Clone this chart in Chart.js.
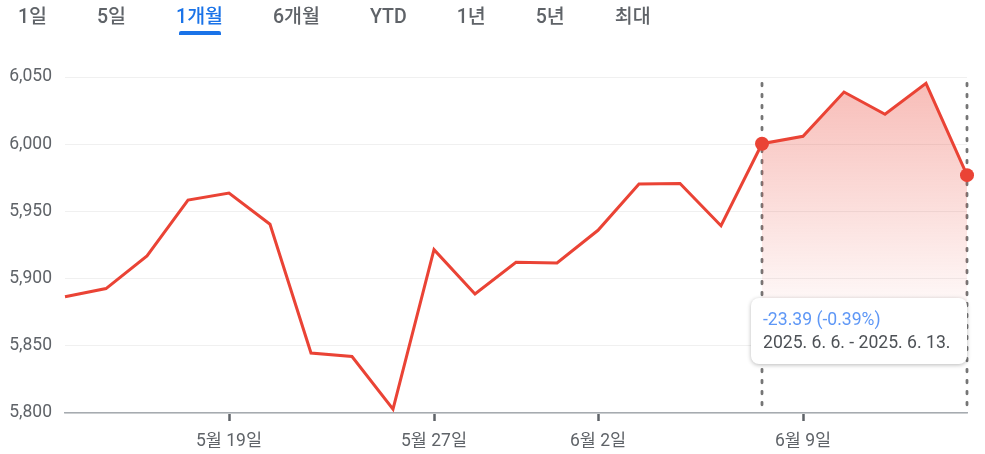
<!DOCTYPE html>
<html lang="ko">
<head>
<meta charset="UTF-8">
<title>1개월 차트</title>
<script src="https://cdn.jsdelivr.net/npm/chart.js"></script>
<style>
  body {
    margin: 0;
    background: #fff;
    font-family: Roboto, 'Noto Sans CJK KR', sans-serif;
  }
  .wrap {
    position: relative;
    width: 985px;
    height: 454px;
    overflow: hidden;
  }
  .tabs {
    position: absolute;
    top: 3px;
    left: 18px;
    display: flex;
    gap: 50px;
    z-index: 2;
  }
  .tab {
    position: relative;
    font-size: 19.5px;
    font-weight: 500;
    color: #5f6368;
    line-height: 28px;
  }
  .tab.on { color: #1a73e8; }
  .tab.on::after {
    content: '';
    position: absolute;
    left: 3px; right: 2px;
    top: 28px;
    height: 4px;
    border-radius: 2px 2px 0 0;
    background: #1a73e8;
  }
  canvas { position: absolute; top: 0; left: 0; }
  .tip {
    position: absolute;
    z-index: 3;
    background: #fff;
    border-radius: 8px;
    box-shadow: 0 1px 4px rgba(0,0,0,0.28);
    padding: 10px 12px 9px 12px;
    box-sizing: border-box;
    font-size: 17.6px;
    line-height: 23px;
    white-space: nowrap;
  }
  .tip .chg { color: #5e97f6; }
  .tip .rng { color: #4d5156; }
</style>
</head>
<body>
<div class="wrap">
  <div class="tabs" id="tabs"></div>
  <canvas id="c" width="985" height="454"></canvas>
  <div class="tip" id="tip"><div class="chg" id="chg"></div><div class="rng" id="rng"></div></div>
</div>

<script>
// 기간 탭
const tabs = ['1일', '5일', '1개월', '6개월', 'YTD', '1년', '5년', '최대'];
const activeTab = '1개월';

// 거래일 (5월 13일 ~ 6월 13일)
const dates = ['5월 13일', '5월 14일', '5월 15일', '5월 16일', '5월 19일', '5월 20일', '5월 21일',
  '5월 22일', '5월 23일', '5월 27일', '5월 28일', '5월 29일', '5월 30일', '6월 2일', '6월 3일',
  '6월 4일', '6월 5일', '6월 6일', '6월 9일', '6월 10일', '6월 11일', '6월 12일', '6월 13일'];
const closes = [5886.55, 5892.58, 5916.93, 5958.38, 5963.60, 5940.46, 5844.61, 5842.01, 5802.82,
  5921.54, 5888.55, 5912.17, 5911.69, 5935.94, 5970.37, 5970.81, 5939.30, 6000.36, 6005.88,
  6038.81, 6022.24, 6045.26, 5976.97];
const xTickLabels = ['5월 19일', '5월 27일', '6월 2일', '6월 9일'];
const yTicks = [5800, 5850, 5900, 5950, 6000, 6050];

// 선택 구간 (6월 6일 ~ 6월 13일)
const selStart = 17;
const selEnd = 22;
const selRangeText = '2025. 6. 6. - 2025. 6. 13.';

const RED = '#ea4335';
const FONT = "Roboto, 'Noto Sans CJK KR', sans-serif";

const tabsEl = document.getElementById('tabs');
tabs.forEach(t => {
  const d = document.createElement('div');
  d.className = 'tab' + (t === activeTab ? ' on' : '');
  d.textContent = t;
  tabsEl.appendChild(d);
});

const diff = closes[selEnd] - closes[selStart];
const pct = diff / closes[selStart] * 100;
document.getElementById('chg').textContent = diff.toFixed(2) + ' (' + pct.toFixed(2) + '%)';
document.getElementById('rng').textContent = selRangeText;

// 선택 구간 세로 점선
const rangeLines = {
  id: 'rangeLines',
  beforeDatasetsDraw(chart) {
    const { ctx, scales: { x, y }, chartArea } = chart;
    const top = y.getPixelForValue(Math.max(...closes));
    ctx.save();
    ctx.strokeStyle = '#757575';
    ctx.lineWidth = 2.8;
    ctx.lineCap = 'round';
    ctx.setLineDash([2.5, 8.5]);
    [selStart, selEnd].forEach(i => {
      const px = x.getPixelForValue(i);
      ctx.beginPath();
      ctx.moveTo(px, top);
      ctx.lineTo(px, chartArea.bottom);
      ctx.stroke();
    });
    ctx.restore();
  },
  afterRender(chart) {
    const { scales: { x } } = chart;
    const tip = document.getElementById('tip');
    const l = x.getPixelForValue(selStart) - 11;
    const r = x.getPixelForValue(selEnd);
    tip.style.left = l + 'px';
    tip.style.width = (r - l) + 'px';
    tip.style.top = '298px';
    tip.style.height = '66px';
  }
};

new Chart(document.getElementById('c'), {
  type: 'line',
  data: {
    labels: dates,
    datasets: [{
      data: closes,
      borderColor: RED,
      borderWidth: 3,
      tension: 0,
      fill: false,
      pointRadius: ctx => (ctx.dataIndex === selStart || ctx.dataIndex === selEnd) ? 7 : 0,
      pointBackgroundColor: RED,
      pointBorderWidth: 0
    }, {
      data: closes.map((v, i) => i >= selStart ? v : null),
      borderWidth: 0,
      pointRadius: 0,
      fill: 'start',
      backgroundColor: ctx => {
        const ca = ctx.chart.chartArea;
        if (!ca) return 'rgba(234,67,53,0.3)';
        const g = ctx.chart.ctx.createLinearGradient(0, ca.top, 0, ca.bottom);
        g.addColorStop(0, 'rgba(234,67,53,0.36)');
        g.addColorStop(0.75, 'rgba(234,67,53,0.0)');
        return g;
      }
    }]
  },
  options: {
    responsive: false,
    devicePixelRatio: 1,
    animation: false,
    layout: { padding: { top: 77, right: 18, left: 0, bottom: 0 } },
    plugins: { legend: { display: false }, tooltip: { enabled: false } },
    scales: {
      x: {
        type: 'category',
        offset: false,
        afterFit: s => { s.height = 41; },
        border: { color: '#a6abb0', width: 1.5 },
        grid: {
          drawOnChartArea: false,
          drawTicks: true,
          tickLength: 8,
          tickColor: '#5f6368',
          tickWidth: 2.5
        },
        ticks: {
          autoSkip: false,
          maxRotation: 0,
          padding: 10,
          color: '#5f6368',
          font: { family: FONT, size: 17.5 },
          callback(v) {
            const lab = this.getLabelForValue(v);
            return xTickLabels.includes(lab) ? lab : null;
          }
        }
      },
      y: {
        min: yTicks[0],
        max: yTicks[yTicks.length - 1],
        afterFit: s => { s.width = 65; },
        afterBuildTicks: s => { s.ticks = yTicks.map(v => ({ value: v })); },
        border: { display: false },
        grid: { color: '#f0f0f0', lineWidth: 1, drawTicks: false },
        ticks: {
          padding: 13,
          color: '#5f6368',
          font: { family: FONT, size: 17.5 },
          callback: v => v.toLocaleString('en-US')
        }
      }
    }
  },
  plugins: [rangeLines]
});
</script>
</body>
</html>
